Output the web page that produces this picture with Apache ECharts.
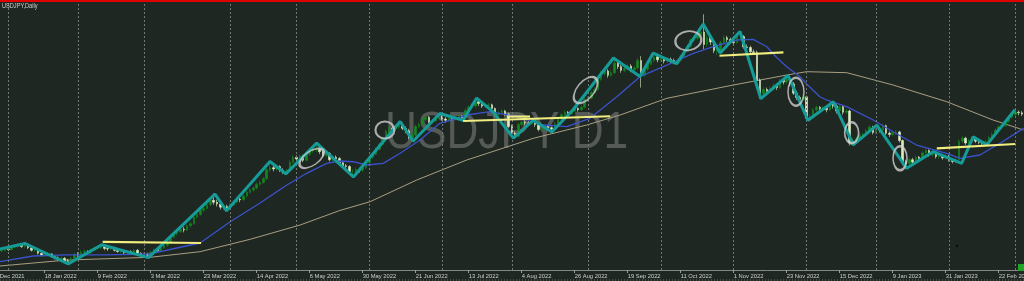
<!DOCTYPE html>
<html>
<head>
<meta charset="utf-8">
<script src="https://cdn.jsdelivr.net/npm/echarts@6/dist/echarts.min.js"></script>
<style>
html,body{margin:0;padding:0;background:#1f2722;}
#chart{width:1024px;height:281px;}
</style>
</head>
<body>
<div id="chart"></div>
<script>
// ---- data ----
const tickLabels = ['27 Dec 2021','18 Jan 2022','9 Feb 2022','3 Mar 2022','23 Mar 2022','14 Apr 2022','6 May 2022','30 May 2022','21 Jun 2022','13 Jul 2022','4 Aug 2022','26 Aug 2022','19 Sep 2022','11 Oct 2022','1 Nov 2022','23 Nov 2022','15 Dec 2022','9 Jan 2023','31 Jan 2023','22 Feb 2023'];
const firstLabelBar = 1;
const labelEvery = 16;
const monthStartBars = [6,27,47,73,93,115,137,158,181,203,225,247,268,290,310];

// daily candles: [open, close, low, high]
const candles = [
[114.4,114.6,114.2,114.8],[114.6,114.9,114.5,115.1],[114.9,115.0,114.7,115.3],[115.0,115.1,114.8,115.4],[115.1,115.2,114.9,115.5],
[115.2,115.4,115.0,115.7],[115.4,115.3,115.1,115.6],[115.3,115.7,115.2,116.0],[115.7,115.9,115.5,116.2],[115.9,116.0,115.6,116.3],
[116.0,115.8,115.6,116.2],[115.8,116.0,115.6,116.4],[116.0,115.6,115.4,116.2],[115.6,115.2,115.0,115.8],[115.2,115.3,114.9,115.6],
[115.3,114.7,114.5,115.4],[114.7,114.4,114.2,114.9],[114.4,114.5,114.1,114.8],[114.5,114.6,114.2,114.9],[114.6,114.2,114.0,114.7],
[114.2,114.0,113.7,114.4],[114.0,113.8,113.5,114.2],[113.8,113.9,113.4,114.2],[113.9,113.5,113.2,114.1],[113.5,113.4,113.0,113.8],
[113.4,113.9,113.2,114.1],[113.9,114.5,113.7,114.8],[114.5,114.4,114.1,114.9],[114.4,114.9,114.2,115.2],[114.9,115.0,114.6,115.3],
[115.0,114.8,114.5,115.2],[114.8,115.3,114.6,115.5],[115.3,115.5,115.1,115.8],[115.5,115.6,115.3,115.9],[115.6,115.8,115.4,116.1],
[115.8,115.5,115.2,116.0],[115.5,115.4,115.1,115.7],[115.4,115.6,115.2,115.8],[115.6,115.2,115.0,115.8],[115.2,115.0,114.8,115.4],
[115.0,115.1,114.7,115.3],[115.1,114.8,114.6,115.3],[114.8,115.0,114.6,115.2],[115.0,114.9,114.6,115.2],[114.9,115.2,114.7,115.4],
[115.2,114.7,114.5,115.4],[114.7,114.5,114.2,114.9],[114.5,114.6,114.2,114.9],[114.6,114.4,114.0,114.8],[114.4,114.9,114.3,115.1],
[114.9,115.3,114.7,115.5],[115.3,115.1,114.9,115.5],[115.1,115.6,115.0,115.8],[115.6,116.0,115.4,116.2],[116.0,116.4,115.8,116.7],
[116.4,117.3,116.2,117.5],[117.3,117.9,117.1,118.2],[117.9,118.2,117.6,118.5],[118.2,118.6,118.0,118.9],[118.6,118.5,118.1,119.0],
[118.5,119.2,118.3,119.4],[119.2,119.5,118.9,119.8],[119.5,120.6,119.3,120.9],[120.6,121.0,120.3,121.3],[121.0,121.7,120.8,122.0],
[121.7,122.0,121.4,122.3],[122.0,122.6,121.8,122.9],[122.6,123.3,122.4,123.7],[123.3,123.0,122.6,124.4],[123.0,122.7,122.3,123.4],
[122.7,122.2,121.8,123.0],[122.2,122.3,121.7,122.7],[122.3,122.0,121.6,122.6],[122.0,122.6,121.8,122.9],[122.6,123.0,122.4,123.3],
[123.0,123.5,122.8,123.8],[123.5,123.4,123.0,123.8],[123.4,124.0,123.2,124.3],[124.0,124.6,123.8,124.9],[124.6,125.0,124.4,125.3],
[125.0,125.3,124.7,125.6],[125.3,125.9,125.1,126.2],[125.9,126.2,125.7,126.5],[126.2,126.8,126.0,127.1],[126.8,128.3,126.6,128.6],
[128.3,128.6,127.9,129.6],[128.6,128.4,128.0,128.9],[128.4,128.8,128.1,129.2],[128.8,128.2,127.9,129.0],[128.2,128.0,127.6,128.5],
[128.0,128.1,127.6,128.4],[128.1,129.5,127.9,129.8],[129.5,130.3,129.3,130.7],[130.3,130.0,129.6,130.6],[130.0,130.5,129.8,130.8],
[130.5,129.8,129.5,130.7],[129.8,130.8,129.6,131.1],[130.8,131.3,130.5,131.6],[131.3,131.5,131.0,131.9],[131.5,131.6,131.1,132.6],
[131.6,131.2,130.8,131.9],[131.2,130.6,130.3,131.4],[130.6,130.9,130.3,131.2],[130.9,129.9,129.6,131.1],[129.9,130.3,129.6,130.6],
[130.3,130.1,129.7,130.6],[130.1,129.4,129.1,130.3],[129.4,128.9,128.6,129.7],[128.9,128.8,128.4,129.2],[128.8,128.0,127.7,129.0],
[128.0,128.0,127.1,128.4],[128.0,128.3,127.7,128.6],[128.3,128.2,127.8,128.6],[128.2,128.6,127.9,128.9],[128.6,129.4,128.4,129.7],
[129.4,130.3,129.2,130.6],[130.3,130.8,130.0,131.1],[130.8,131.6,130.6,131.9],[131.6,132.4,131.4,132.7],[132.4,133.3,132.2,133.6],
[133.3,134.5,133.1,134.8],[134.5,135.0,134.2,135.3],[135.0,134.9,134.5,135.4],[134.9,135.2,134.6,135.5],[135.2,135.6,134.9,136.1],
[135.6,135.0,134.7,135.9],[135.0,134.6,134.2,135.3],[134.6,133.5,133.2,134.9],[133.5,133.9,132.9,134.2],[133.9,135.3,133.7,135.6],
[135.3,135.6,135.0,135.9],[135.6,136.4,135.4,136.7],[136.4,136.8,136.1,137.1],[136.8,136.0,135.7,137.0],[136.0,136.2,135.8,136.5],
[136.2,136.7,136.0,137.0],[136.7,137.0,136.4,137.4],[137.0,136.5,136.2,137.2],[136.5,136.3,135.9,136.8],[136.3,136.6,136.0,136.9],
[136.6,136.5,136.2,136.9],[136.5,136.8,136.3,137.1],[136.8,136.9,136.5,137.2],[136.9,136.7,136.3,137.1],[136.7,137.9,136.5,138.2],
[137.9,138.4,137.6,138.7],[138.4,138.6,138.1,139.0],[138.6,139.3,138.3,139.9],[139.3,139.0,138.6,139.5],[139.0,138.6,138.3,139.2],
[138.6,138.7,138.3,139.0],[138.7,138.8,138.4,139.1],[138.8,138.2,137.9,139.0],[138.2,137.2,136.9,138.4],[137.2,137.5,136.9,137.8],
[137.5,137.8,137.2,138.1],[137.8,137.3,137.0,138.0],[137.3,135.3,135.0,137.5],[135.3,134.2,133.8,135.6],[134.2,133.7,133.3,134.5],
[133.7,135.6,133.5,135.9],[135.6,136.0,135.3,136.3],[136.0,135.9,135.5,136.3],[135.9,135.8,135.4,136.2],[135.8,136.0,135.5,136.4],
[136.0,135.6,135.2,136.2],[135.6,134.8,134.5,135.8],[134.8,134.9,134.5,135.2],[134.9,135.3,134.7,135.6],[135.3,135.1,134.7,135.5],
[135.1,134.9,134.4,135.3],[134.9,135.7,134.7,136.0],[135.7,136.5,135.5,136.8],[136.5,137.2,136.3,137.5],[137.2,137.6,137.0,137.9],
[137.6,137.4,137.0,137.8],[137.4,137.8,137.2,138.1],[137.8,138.2,137.6,138.5],[138.2,138.0,137.7,138.4],[138.0,138.4,137.8,138.7],
[138.4,139.7,138.2,140.0],[139.7,139.9,139.4,140.2],[139.9,140.8,139.7,141.1],[140.8,141.3,140.6,141.6],[141.3,142.9,141.1,143.2],
[142.9,143.9,142.7,144.3],[143.9,144.3,143.5,144.6],[144.3,143.6,143.2,144.6],[143.6,144.0,143.3,144.4],[144.0,145.6,143.8,146.4],
[145.6,145.0,144.6,145.9],[145.0,144.4,144.0,145.3],[144.4,144.7,144.1,145.0],[144.7,145.1,144.4,145.5],[145.1,144.5,144.1,145.4],
[144.5,144.8,144.2,145.1],[144.8,146.0,144.6,146.4],[146.0,143.6,141.6,146.7],[143.6,144.6,143.3,144.9],[144.6,145.4,144.3,145.7],
[145.4,146.0,145.2,146.3],[146.0,146.6,145.7,147.2],[146.6,146.1,145.7,146.9],[146.1,146.4,145.8,146.7],[146.4,145.9,145.5,146.6],
[145.9,146.2,145.6,146.5],[146.2,146.0,145.6,146.5],[146.0,145.8,145.4,146.3],[145.8,146.0,145.4,146.3],[146.0,146.6,145.8,146.9],
[146.6,147.7,146.4,148.0],[147.7,148.3,147.4,148.6],[148.3,149.3,148.1,149.6],[149.3,149.6,149.0,149.9],[149.6,150.1,149.3,150.4],
[150.1,150.6,149.9,151.0],[150.6,148.6,147.8,153.5],[148.6,149.7,148.2,150.2],[149.7,149.0,148.5,150.0],[149.0,147.6,147.2,149.3],
[147.6,147.6,146.9,148.2],[147.6,148.9,147.2,149.2],[148.9,149.7,148.6,150.1],[149.7,149.4,149.0,150.0],[149.4,149.1,148.7,149.7],
[149.1,148.9,148.5,149.5],[148.9,149.9,148.7,150.3],[149.9,149.9,149.4,150.8],[149.9,148.2,147.9,150.1],[148.2,148.1,147.7,148.6],
[148.1,147.4,147.0,148.4],[147.4,147.3,146.9,147.8],[147.3,142.8,142.2,147.6],[142.8,140.6,139.8,143.1],[140.6,141.3,140.2,141.7],
[141.3,141.0,140.5,141.6],[141.0,141.4,140.7,141.8],[141.4,141.9,141.1,142.3],[141.9,141.6,141.2,142.2],[141.6,142.8,141.4,143.1],
[142.8,142.5,142.1,143.1],[142.5,143.0,142.2,143.7],[143.0,142.2,141.8,143.3],[142.2,140.7,140.4,142.5],[140.7,140.0,139.6,141.0],
[140.0,139.7,139.3,140.3],[139.7,140.1,139.4,140.5],[140.1,136.6,136.2,140.3],[136.6,136.8,136.0,137.3],[136.8,138.0,136.6,138.3],
[138.0,138.4,137.7,138.7],[138.4,138.2,137.8,138.6],[138.2,138.3,137.9,138.6],[138.3,138.0,137.6,138.5],[138.0,138.9,137.8,139.2],
[138.9,138.6,138.2,139.4],[138.6,137.8,137.4,138.9],[137.8,138.5,137.5,138.8],[138.5,137.6,137.2,138.7],[137.6,137.8,137.3,138.1],
[137.8,132.6,132.2,138.0],[132.6,133.0,132.2,133.4],[133.0,133.3,132.7,133.6],[133.3,133.9,133.0,134.2],[133.9,134.0,133.6,134.3],
[134.0,134.6,133.8,134.9],[134.6,135.2,134.3,135.5],[135.2,134.3,134.0,135.4],[134.3,134.9,134.0,135.5],[134.9,134.7,134.3,135.2],
[134.7,135.4,134.5,135.7],[135.4,134.2,133.9,135.6],[134.2,134.0,133.6,134.5],[134.0,134.3,133.7,134.6],[134.3,134.4,133.9,134.7],
[134.4,133.0,132.7,134.6],[133.0,129.6,129.0,133.2],[129.6,129.3,128.5,129.9],[129.3,129.9,129.0,130.2],[129.9,129.5,129.1,130.2],
[129.5,130.3,129.3,130.6],[130.3,130.1,129.8,130.5],[130.1,131.0,129.9,131.3],[131.0,131.4,130.7,131.7],[131.4,130.7,130.4,131.6],
[130.7,130.9,130.4,131.3],[130.9,130.4,130.1,131.1],[130.4,130.6,130.1,130.9],[130.6,130.2,129.9,130.8],[130.2,130.5,129.9,130.8],
[130.5,129.9,129.6,130.7],[129.9,129.6,129.3,130.1],[129.6,129.9,129.3,130.2],[129.9,132.9,129.7,133.2],[132.9,133.4,132.6,133.7],
[133.4,132.6,132.3,133.6],[132.6,133.0,132.4,133.3],[133.0,133.3,132.8,133.7],[133.3,132.9,132.6,133.5],[132.9,132.7,132.4,133.1],
[132.7,132.5,132.2,132.9],[132.5,132.8,132.3,133.1],[132.8,133.5,132.6,133.8],[133.5,134.0,133.3,134.3],[134.0,134.7,133.8,135.0],
[134.7,135.2,134.5,135.5],[135.2,135.4,134.9,135.7],[135.4,136.1,135.2,136.4],[136.1,136.8,135.9,137.1],[136.8,137.2,136.5,137.5],
[137.2,137.6,137.0,138.0],[137.6,137.5,137.1,137.9],[137.5,137.3,137.0,137.8]
];

// zigzag (teal) vertices: [bar, price]
const zigzag = [[0,115.0],[11.1,116.3],[24.1,113.0],[34.2,116.1],[48.3,114.0],[68.4,124.3],[71.9,121.6],[85.0,129.6],[89.8,127.6],[99.1,132.6],[110.2,127.1],[124.3,136.1],[128.2,132.9],[136.3,137.4],[143.3,136.3],[147.4,139.9],[152.3,137.7],[158.5,133.4],[164.5,136.3],[170.1,134.4],[176.5,138.0],[188.7,146.4],[196.7,143.4],[200.7,147.2],[207.8,145.5],[215.8,151.9],[220.9,147.2],[226.9,150.7],[233.2,139.8],[241.4,143.6],[247.4,136.3],[255.1,139.3],[261.1,132.3],[268.2,135.5],[277.2,128.5],[285.2,131.2],[293.8,129.3],[297.3,133.6],[301.4,132.3],[309.9,138.0]];

// fast moving average (blue): [bar, price]
const fastMA = [[0,113.2],[3.5,113.35],[13.5,114.27],[23.7,114.44],[35.8,114.44],[48.8,114.6],[56.9,115.57],[63.9,116.38],[73.0,119.84],[82.0,122.87],[90.1,125.79],[96.1,127.69],[102.1,129.31],[106.1,129.69],[110.1,129.57],[114.2,129.04],[119.2,129.31],[124.3,130.94],[130.3,133.1],[136.3,135.81],[144.4,137.15],[151.4,137.69],[159.5,136.88],[167.5,135.53],[174.6,135.25],[181.6,136.62],[189.7,140.12],[196.7,143.37],[204.8,145.26],[212.8,147.16],[218.8,148.23],[225.9,149.32],[230.9,149.43],[235.0,148.23],[237.8,146.56],[241.0,144.99],[245.0,143.37],[247.0,142.18],[251.0,140.12],[253.0,139.59],[259.1,138.5],[267.1,136.34],[273.1,134.44],[280.2,132.28],[289.3,130.94],[293.3,130.13],[299.3,130.66],[305.4,132.56],[312.5,134.99]];

// slow moving average (beige): [bar, price]
const slowMA = [[0,112.55],[3.5,112.65],[23.7,113.62],[48.8,114.06],[63.9,114.97],[79.0,116.98],[94.1,119.3],[106.1,121.66],[115.2,123.08],[129.3,126.6],[144.4,129.85],[164.5,133.37],[180.6,135.53],[190.7,137.15],[204.8,139.86],[224.9,142.02],[241.0,143.64],[247.0,144.18],[259.1,144.02],[273.1,142.02],[289.3,139.31],[303.3,136.34],[312.5,134.72]];

// hand-drawn levels (yellow): [bar1, price1, bar2, price2]
const levels = [[34.5,116.55,64.2,116.38],[143.3,136.18,187.7,136.95],[156.5,136.9,163.5,136.9],[220.7,146.77,240.0,147.33],[286.3,131.75,310.0,132.45]];

// hand-drawn marks (grey ellipses): [bar, price]
const marks = [[97.6,130.13],[119.7,134.72],[180.3,141.2],[211.3,149.21],[243.8,140.93],[260.6,134.28],[275.2,130.13]];

// ---- styling ----
const markShapes = [{s:[28,14],r:35},{s:[19,17],r:0},{s:[31,17],r:50},{s:[26,19],r:8},{s:[16,28],r:0},{s:[14,21],r:0},{s:[14,24],r:0}];
const BAR = 3.3125;
const nBars = candles.length;
const barIdx = candles.map((_, i) => String(i));
const isLabelBar = (i) => i >= firstLabelBar && (i - firstLabelBar) % labelEvery === 0;

const chart = echarts.init(document.getElementById('chart'), null, {renderer: 'canvas'});
const lineSeries = (name, data, color, width, z) => ({
  name, type: 'line', xAxisIndex: 1, yAxisIndex: 0, data, showSymbol: false, symbol: 'none',
  lineStyle: {color, width}, z, silent: true
});

const option = {
  backgroundColor: '#1f2722',
  animation: false,
  grid: {left: -13.25, width: nBars * BAR, top: 2, height: 268, containLabel: false, outerBoundsMode: 'none'},
  xAxis: [{
    type: 'category', data: barIdx, boundaryGap: true,
    axisLine: {show: true, lineStyle: {color: '#858985', width: 1}},
    axisTick: {show: true, alignWithLabel: true, interval: (i) => isLabelBar(i), length: 3, lineStyle: {color: '#9a9e9a'}},
    axisLabel: {
      interval: (i) => isLabelBar(i),
      formatter: (v, i) => tickLabels[(i - firstLabelBar) / labelEvery] || '',
      align: 'left', color: '#cfd1cf', fontSize: 5.8, fontFamily: 'Liberation Sans', margin: 3
    },
    splitLine: {show: false}
  }, {
    type: 'value', min: -0.5, max: nBars - 0.5, show: false, gridIndex: 0
  }],
  yAxis: [{type: 'value', min: 112.0, max: 155.49, show: false, splitLine: {show: false}}],
  graphic: [
    {type: 'text', x: 385, y: 133.4, scaleX: 0.85, z: 0,
      style: {text: 'USDJPY D1', font: '52px "Liberation Sans"', fill: '#555a56', verticalAlign: 'middle', align: 'left'}},
    {type: 'rect', shape: {x: 0, y: 0, width: 1024, height: 2}, style: {fill: '#e00000'}, z: 100},
    {type: 'text', x: 2, y: 3, scaleX: 0.88, z: 100,
      style: {text: 'USDJPY,Daily', font: '6.4px "Liberation Sans"', fill: '#cfcfcf', verticalAlign: 'top'}},
    {type: 'line', shape: {x1: 0, y1: 280, x2: 1024, y2: 280}, style: {stroke: '#6f736f', lineWidth: 1, lineDash: [1, 2]}, z: 100},
    {type: 'rect', shape: {x: 1018, y: 264, width: 6, height: 7}, style: {fill: '#1fa526'}, z: 100},
    {type: 'circle', shape: {cx: 957, cy: 246, r: 1.2}, style: {fill: '#0c0f0d'}, z: 100}
  ],
  series: [
    Object.assign(lineSeries('slow', slowMA, '#a99f82', 1, 2), {
      markLine: {
        silent: true, symbol: ['none', 'none'], label: {show: false},
        lineStyle: {color: '#737873', width: 1, type: [2, 2]},
        data: monthStartBars.map(b => ({xAxis: b}))
      }
    }),
    {
      name: 'candles', type: 'candlestick', xAxisIndex: 0, yAxisIndex: 0, data: candles,
      barWidth: 2, z: 3, silent: true,
      itemStyle: {color: '#14871f', color0: '#dcefc2', borderColor: '#14871f', borderColor0: '#dcefc2', borderWidth: 0.6}
    },
    lineSeries('fast', fastMA, '#3a52cc', 1.3, 4),
    lineSeries('zigzag', zigzag, '#169c98', 3, 5),
    ...levels.map((l, k) => lineSeries('level' + k, [[l[0], l[1]], [l[2], l[3]]], '#f1ee80', 2.2, 6)),
    {
      name: 'marks', type: 'scatter', xAxisIndex: 1, yAxisIndex: 0, z: 7, silent: true,
      data: marks.map((m, k) => ({value: m, symbolSize: markShapes[k].s, symbolRotate: markShapes[k].r})),
      symbol: 'path://M0,50 A50,50 0 1 1 100,50 A50,50 0 1 1 0,50 Z',
      itemStyle: {color: 'rgba(0,0,0,0)', borderColor: '#cfcfcf', borderWidth: 2}
    }
  ]
};
chart.setOption(option);
</script>
</body>
</html>
